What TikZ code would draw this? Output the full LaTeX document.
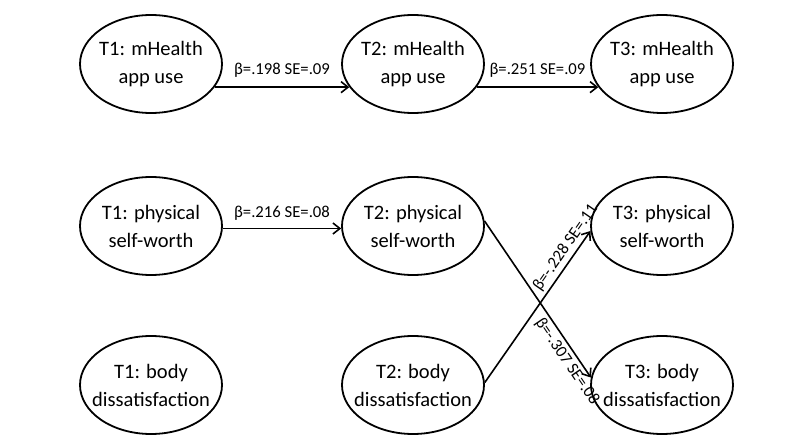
\documentclass[tikz,border=0pt]{standalone}
\usepackage{fontspec}
\setmainfont{Carlito}
\usetikzlibrary{arrows.meta,shapes.geometric}
\begin{document}
\begin{tikzpicture}[x=1pt,y=-1pt,
  var/.style={draw=black, line width=1.8pt, ellipse, minimum width=142pt, minimum height=98pt, inner sep=-18pt, align=center, font=\fontsize{20.5}{28}\selectfont},
  arr/.style={line width=1.6pt, -{Straight Barb[length=7pt,width=11pt,line width=1.6pt]}},
  lab/.style={font=\fontsize{16.7}{18}\selectfont, inner sep=1.5pt},
  slab/.style={font=\fontsize{16.7}{18}\selectfont, inner sep=3pt, sloped}
]
\useasboundingbox (0,0) rectangle (800,443);
\node[var] (m1) at (151,64) {T1: mHealth\\app use};
\node[var] (m2) at (413,64) {T2: mHealth\\app use};
\node[var] (m3) at (662,64) {T3: mHealth\\app use};
\node[var] (p1) at (151,226) {T1: physical\\self-worth};
\node[var] (p2) at (413,226) {T2: physical\\self-worth};
\node[var] (p3) at (662,226) {T3: physical\\self-worth};
\node[var] (b1) at (151,385) {T1: body\\dissatisfaction};
\node[var] (b2) at (413,385) {T2: body\\dissatisfaction};
\node[var] (b3) at (662,385) {T3: body\\dissatisfaction};
\draw[arr] (m1.-20) -- node[lab, above=7pt] {β=.198 SE=.09} (m2.200);
\draw[arr] (m2.-20) -- node[lab, above=7pt] {β=.251 SE=.09} (m3.200);
\draw[arr] (p1.-2.5) -- node[lab, above=6pt] {β=.216 SE=.08} (p2.182.5);
\draw[arr] (p2.4) -- node[slab, pos=0.86, below] {β=-.307 SE=.08} (b3.174);
\draw[arr] (b2.2) -- node[slab, pos=0.85, above] {β=-.228 SE=.11} (p3.184);
\end{tikzpicture}
\end{document}
